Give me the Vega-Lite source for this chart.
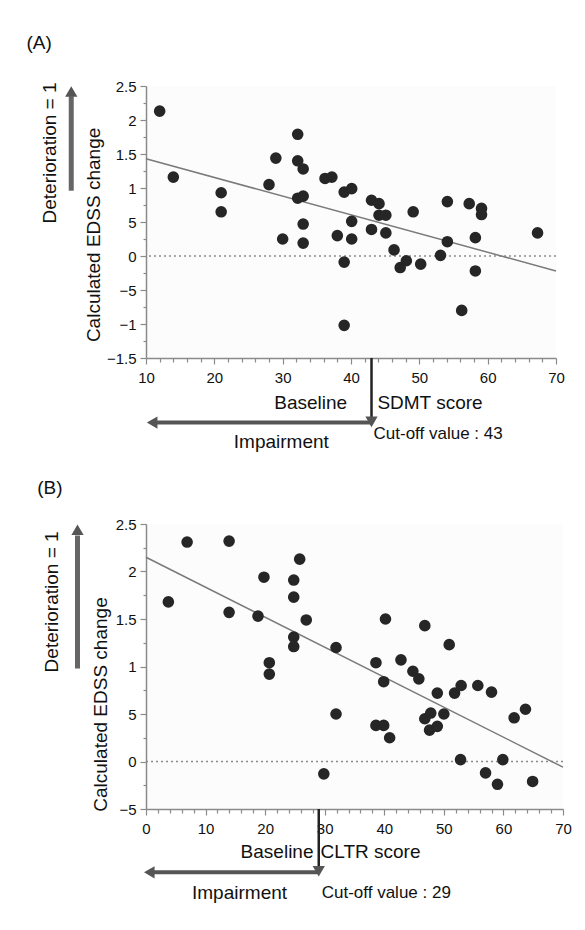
{
  "$schema": "https://vega.github.io/schema/vega-lite/v6.json",
  "padding": {"left": 26, "top": 34, "right": 0, "bottom": 0},
  "spacing": 25,
  "background": "white",
  "config": {
    "font": "Liberation Sans",
    "view": {"stroke": null, "fill": "#fcfcfc"},
    "axis": {"grid": false, "domainColor": "#8a8a8a", "domainWidth": 1.5, "tickColor": "#8a8a8a", "tickWidth": 1.2, "labelFontSize": 15, "labelColor": "#111", "labelFont": "Liberation Sans", "labelOverlap": false, "labelFlush": false, "labelBound": false, "title": null}
  },
  "vconcat": [
    {
      "width": 410,
      "height": 272,
      "resolve": {"axis": {"x": "independent", "y": "independent"}},
      "layer": [
        {
          "data": {"values": [{"y": 0}]},
          "mark": {"type": "rule", "color": "#8a8a8a", "strokeDash": [2, 3], "strokeWidth": 1.5},
          "encoding": {
            "y": {"field": "y", "type": "quantitative", "scale": {"domain": [-1.5, 2.5], "nice": false, "zero": false},
              "axis": {"orient": "left", "values": [2.5, 2, 1.5, 1, 0.5, 0, -0.5, -1, -1.5], "tickSize": 6, "labelPadding": 4,
                "labelExpr": "datum.value == 2.5 ? '2.5' : datum.value == 2 ? '2' : datum.value == 1.5 ? '1.5' : datum.value == 1 ? '1' : datum.value == 0.5 ? '5' : datum.value == 0 ? '0' : datum.value == -0.5 ? '−5' : datum.value == -1 ? '−1' : '−1.5'"}}
          }
        },
        {
          "data": {"values": [{"x": 10, "y": 1.43}, {"x": 70, "y": -0.22}]},
          "mark": {"type": "line", "color": "#7a7a7a", "strokeWidth": 1.5},
          "encoding": {
            "x": {"field": "x", "type": "quantitative", "scale": {"domain": [10, 70], "nice": false, "zero": false},
              "axis": {"orient": "bottom", "values": [10, 20, 30, 40, 50, 60, 70], "tickSize": 6, "labelPadding": 6}},
            "y": {"field": "y", "type": "quantitative", "scale": {"domain": [-1.5, 2.5], "nice": false, "zero": false}, "axis": null}
          }
        },
        {
          "data": {"values": [
            {"x": 12, "y": 2.13}, {"x": 14, "y": 1.16}, {"x": 21, "y": 0.93}, {"x": 21, "y": 0.65}, {"x": 28, "y": 1.05},
            {"x": 29, "y": 1.44}, {"x": 30, "y": 0.25}, {"x": 32.2, "y": 1.79}, {"x": 32.2, "y": 1.4}, {"x": 33, "y": 1.28},
            {"x": 32.2, "y": 0.85}, {"x": 33, "y": 0.88}, {"x": 33, "y": 0.47}, {"x": 33, "y": 0.19}, {"x": 36.2, "y": 1.14},
            {"x": 37.2, "y": 1.16}, {"x": 38, "y": 0.3}, {"x": 39, "y": 0.94}, {"x": 40.1, "y": 0.99}, {"x": 43, "y": 0.82},
            {"x": 44.1, "y": 0.77}, {"x": 44.1, "y": 0.6}, {"x": 45.1, "y": 0.6}, {"x": 40.1, "y": 0.51}, {"x": 40.1, "y": 0.25},
            {"x": 43, "y": 0.39}, {"x": 45.1, "y": 0.34}, {"x": 49.1, "y": 0.65}, {"x": 54.1, "y": 0.8}, {"x": 57.3, "y": 0.77},
            {"x": 59.1, "y": 0.7}, {"x": 59.1, "y": 0.61}, {"x": 67.3, "y": 0.34}, {"x": 54.1, "y": 0.21}, {"x": 58.2, "y": 0.27},
            {"x": 46.3, "y": 0.09}, {"x": 39, "y": -0.09}, {"x": 47.2, "y": -0.17}, {"x": 48.1, "y": -0.07}, {"x": 50.2, "y": -0.12},
            {"x": 53.1, "y": 0.01}, {"x": 58.2, "y": -0.22}, {"x": 56.2, "y": -0.8}, {"x": 39, "y": -1.02}
          ]},
          "mark": {"type": "circle", "size": 135, "color": "#262626", "opacity": 1},
          "encoding": {
            "x": {"field": "x", "type": "quantitative", "scale": {"domain": [10, 70], "nice": false, "zero": false},
              "axis": {"orient": "bottom", "values": [12,14,16,18,22,24,26,28,32,34,36,38,42,44,46,48,52,54,56,58,62,64,66,68], "tickSize": 4, "labels": false, "domain": false}},
            "y": {"field": "y", "type": "quantitative", "scale": {"domain": [-1.5, 2.5], "nice": false, "zero": false},
              "axis": {"orient": "left", "values": [2.25, 1.75, 1.25, 0.75, 0.25, -0.25, -0.75, -1.25], "tickSize": 3, "labels": false, "domain": false}}
          }
        },
        {
          "data": {"values": [{"x": -0.94, "x2": -0.94, "y": 0.96, "y2": 2.35}]},
          "mark": {"type": "rule", "color": "#666", "strokeWidth": 5},
          "encoding": {"x": {"field": "x", "type": "quantitative", "axis": null}, "x2": {"field": "x2"}, "y": {"field": "y", "type": "quantitative", "axis": null}, "y2": {"field": "y2"}}
        },
        {
          "data": {"values": [{"x": 43, "x2": 11.2, "y": -2.45, "y2": -2.45}]},
          "mark": {"type": "rule", "color": "#555", "strokeWidth": 4},
          "encoding": {"x": {"field": "x", "type": "quantitative", "axis": null}, "x2": {"field": "x2"}, "y": {"field": "y", "type": "quantitative", "axis": null}, "y2": {"field": "y2"}}
        },
        {
          "data": {"values": [{"x": 43, "x2": 43, "y": -1.5, "y2": -2.37}]},
          "mark": {"type": "rule", "color": "#222", "strokeWidth": 2.5},
          "encoding": {"x": {"field": "x", "type": "quantitative", "axis": null}, "x2": {"field": "x2"}, "y": {"field": "y", "type": "quantitative", "axis": null}, "y2": {"field": "y2"}}
        },
        {
          "data": {"values": [{"x": -0.94, "y": 2.42, "dir": "up"}, {"x": 43, "y": -2.44, "dir": "down"}, {"x": 10.9, "y": -2.45, "dir": "left"}]},
          "mark": {"type": "point", "filled": true, "size": 150, "color": "#555", "opacity": 1},
          "encoding": {
            "x": {"field": "x", "type": "quantitative", "axis": null}, "y": {"field": "y", "type": "quantitative", "axis": null},
            "shape": {"field": "dir", "type": "nominal", "scale": {"domain": ["up", "down", "left"], "range": ["triangle-up", "triangle-down", "triangle-left"]}, "legend": null}
          }
        },
        {
          "data": {"values": [{"x": -7.5, "y": 3.13, "t": "(A)"}]},
          "mark": {"type": "text", "align": "left", "baseline": "middle", "fontSize": 19, "color": "#111"},
          "encoding": {"x": {"field": "x", "type": "quantitative", "axis": null}, "y": {"field": "y", "type": "quantitative", "axis": null}, "text": {"field": "t"}}
        },
        {
          "data": {"values": [{"x": -4.0, "y": 1.515, "t": "Deterioration = 1"}, {"x": 2.45, "y": 0.31, "t": "Calculated EDSS change"}]},
          "mark": {"type": "text", "align": "center", "baseline": "middle", "angle": 270, "fontSize": 19, "color": "#111"},
          "encoding": {"x": {"field": "x", "type": "quantitative", "axis": null}, "y": {"field": "y", "type": "quantitative", "axis": null}, "text": {"field": "t"}}
        },
        {
          "data": {"values": [{"x": 34.1, "y": -2.16, "t": "Baseline"}, {"x": 29.8, "y": -2.74, "t": "Impairment"}]},
          "mark": {"type": "text", "align": "center", "baseline": "middle", "fontSize": 19, "color": "#111"},
          "encoding": {"x": {"field": "x", "type": "quantitative", "axis": null}, "y": {"field": "y", "type": "quantitative", "axis": null}, "text": {"field": "t"}}
        },
        {
          "data": {"values": [{"x": 43.86, "y": -2.16, "t": "SDMT score"}]},
          "mark": {"type": "text", "align": "left", "baseline": "middle", "fontSize": 19, "color": "#111"},
          "encoding": {"x": {"field": "x", "type": "quantitative", "axis": null}, "y": {"field": "y", "type": "quantitative", "axis": null}, "text": {"field": "t"}}
        },
        {
          "data": {"values": [{"x": 43.3, "y": -2.62, "t": "Cut-off value : 43"}]},
          "mark": {"type": "text", "align": "left", "baseline": "middle", "fontSize": 17, "color": "#111"},
          "encoding": {"x": {"field": "x", "type": "quantitative", "axis": null}, "y": {"field": "y", "type": "quantitative", "axis": null}, "text": {"field": "t"}}
        }
      ]
    },
    {
      "width": 417,
      "height": 285,
      "resolve": {"axis": {"x": "independent", "y": "independent"}},
      "layer": [
        {
          "data": {"values": [{"y": 0}]},
          "mark": {"type": "rule", "color": "#8a8a8a", "strokeDash": [2, 3], "strokeWidth": 1.5},
          "encoding": {
            "y": {"field": "y", "type": "quantitative", "scale": {"domain": [-0.5, 2.5], "nice": false, "zero": false},
              "axis": {"orient": "left", "values": [2.5, 2, 1.5, 1, 0.5, 0, -0.5], "tickSize": 6, "labelPadding": 4,
                "labelExpr": "datum.value == 2.5 ? '2.5' : datum.value == 2 ? '2' : datum.value == 1.5 ? '1.5' : datum.value == 1 ? '1' : datum.value == 0.5 ? '5' : datum.value == 0 ? '0' : '−5'"}}
          }
        },
        {
          "data": {"values": [{"x": 0, "y": 2.15}, {"x": 70, "y": -0.06}]},
          "mark": {"type": "line", "color": "#7a7a7a", "strokeWidth": 1.5},
          "encoding": {
            "x": {"field": "x", "type": "quantitative", "scale": {"domain": [0, 70], "nice": false, "zero": false},
              "axis": {"orient": "bottom", "values": [0, 10, 20, 30, 40, 50, 60, 70], "tickSize": 6, "labelPadding": 6}},
            "y": {"field": "y", "type": "quantitative", "scale": {"domain": [-0.5, 2.5], "nice": false, "zero": false}, "axis": null}
          }
        },
        {
          "data": {"values": [
            {"x": 3.75, "y": 1.68}, {"x": 6.9, "y": 2.31}, {"x": 13.95, "y": 2.32}, {"x": 13.95, "y": 1.57}, {"x": 18.8, "y": 1.53},
            {"x": 19.8, "y": 1.94}, {"x": 24.8, "y": 1.91}, {"x": 24.8, "y": 1.73}, {"x": 25.8, "y": 2.13}, {"x": 26.9, "y": 1.49},
            {"x": 24.8, "y": 1.31}, {"x": 24.8, "y": 1.21}, {"x": 31.9, "y": 1.2}, {"x": 20.7, "y": 1.04}, {"x": 20.7, "y": 0.92},
            {"x": 31.9, "y": 0.5}, {"x": 29.85, "y": -0.13}, {"x": 38.6, "y": 1.04}, {"x": 39.9, "y": 0.84}, {"x": 38.6, "y": 0.38},
            {"x": 39.9, "y": 0.38}, {"x": 40.9, "y": 0.25}, {"x": 42.8, "y": 1.07}, {"x": 44.8, "y": 0.95}, {"x": 45.8, "y": 0.87},
            {"x": 46.8, "y": 0.45}, {"x": 47.8, "y": 0.51}, {"x": 47.6, "y": 0.33}, {"x": 48.9, "y": 0.72}, {"x": 48.9, "y": 0.37},
            {"x": 50, "y": 0.5}, {"x": 50.9, "y": 1.23}, {"x": 51.8, "y": 0.72}, {"x": 52.9, "y": 0.8}, {"x": 52.8, "y": 0.02},
            {"x": 55.7, "y": 0.8}, {"x": 58, "y": 0.73}, {"x": 57, "y": -0.12}, {"x": 59, "y": -0.24}, {"x": 59.9, "y": 0.02},
            {"x": 61.8, "y": 0.46}, {"x": 63.7, "y": 0.55}, {"x": 64.9, "y": -0.21}, {"x": 40.2, "y": 1.5}, {"x": 46.8, "y": 1.43}
          ]},
          "mark": {"type": "circle", "size": 135, "color": "#262626", "opacity": 1},
          "encoding": {
            "x": {"field": "x", "type": "quantitative", "scale": {"domain": [0, 70], "nice": false, "zero": false},
              "axis": {"orient": "bottom", "values": [2,4,6,8,12,14,16,18,22,24,26,28,32,34,36,38,42,44,46,48,52,54,56,58,62,64,66,68], "tickSize": 4, "labels": false, "domain": false}},
            "y": {"field": "y", "type": "quantitative", "scale": {"domain": [-0.5, 2.5], "nice": false, "zero": false},
              "axis": {"orient": "left", "values": [2.25, 1.75, 1.25, 0.75, 0.25, -0.25], "tickSize": 3, "labels": false, "domain": false}}
          }
        },
        {
          "data": {"values": [{"x": -11.5, "x2": -11.5, "y": 0.98, "y2": 2.38}]},
          "mark": {"type": "rule", "color": "#666", "strokeWidth": 5},
          "encoding": {"x": {"field": "x", "type": "quantitative", "axis": null}, "x2": {"field": "x2"}, "y": {"field": "y", "type": "quantitative", "axis": null}, "y2": {"field": "y2"}}
        },
        {
          "data": {"values": [{"x": 29, "x2": 1.0, "y": -1.166, "y2": -1.166}]},
          "mark": {"type": "rule", "color": "#555", "strokeWidth": 4},
          "encoding": {"x": {"field": "x", "type": "quantitative", "axis": null}, "x2": {"field": "x2"}, "y": {"field": "y", "type": "quantitative", "axis": null}, "y2": {"field": "y2"}}
        },
        {
          "data": {"values": [{"x": 29, "x2": 29, "y": -0.5, "y2": -1.1}]},
          "mark": {"type": "rule", "color": "#222", "strokeWidth": 2.5},
          "encoding": {"x": {"field": "x", "type": "quantitative", "axis": null}, "x2": {"field": "x2"}, "y": {"field": "y", "type": "quantitative", "axis": null}, "y2": {"field": "y2"}}
        },
        {
          "data": {"values": [{"x": -11.5, "y": 2.44, "dir": "up"}, {"x": 29, "y": -1.156, "dir": "down"}, {"x": 0.55, "y": -1.166, "dir": "left"}]},
          "mark": {"type": "point", "filled": true, "size": 150, "color": "#555", "opacity": 1},
          "encoding": {
            "x": {"field": "x", "type": "quantitative", "axis": null}, "y": {"field": "y", "type": "quantitative", "axis": null},
            "shape": {"field": "dir", "type": "nominal", "scale": {"domain": ["up", "down", "left"], "range": ["triangle-up", "triangle-down", "triangle-left"]}, "legend": null}
          }
        },
        {
          "data": {"values": [{"x": -18.27, "y": 2.88, "t": "(B)"}]},
          "mark": {"type": "text", "align": "left", "baseline": "middle", "fontSize": 19, "color": "#111"},
          "encoding": {"x": {"field": "x", "type": "quantitative", "axis": null}, "y": {"field": "y", "type": "quantitative", "axis": null}, "text": {"field": "t"}}
        },
        {
          "data": {"values": [{"x": -15.7, "y": 1.68, "t": "Deterioration = 1"}, {"x": -7.56, "y": 0.6, "t": "Calculated EDSS change"}]},
          "mark": {"type": "text", "align": "center", "baseline": "middle", "angle": 270, "fontSize": 19, "color": "#111"},
          "encoding": {"x": {"field": "x", "type": "quantitative", "axis": null}, "y": {"field": "y", "type": "quantitative", "axis": null}, "text": {"field": "t"}}
        },
        {
          "data": {"values": [{"x": 22.0, "y": -0.954, "t": "Baseline"}, {"x": 15.7, "y": -1.38, "t": "Impairment"}]},
          "mark": {"type": "text", "align": "center", "baseline": "middle", "fontSize": 19, "color": "#111"},
          "encoding": {"x": {"field": "x", "type": "quantitative", "axis": null}, "y": {"field": "y", "type": "quantitative", "axis": null}, "text": {"field": "t"}}
        },
        {
          "data": {"values": [{"x": 29.3, "y": -0.954, "t": "CLTR score"}]},
          "mark": {"type": "text", "align": "left", "baseline": "middle", "fontSize": 19, "color": "#111"},
          "encoding": {"x": {"field": "x", "type": "quantitative", "axis": null}, "y": {"field": "y", "type": "quantitative", "axis": null}, "text": {"field": "t"}}
        },
        {
          "data": {"values": [{"x": 29.5, "y": -1.38, "t": "Cut-off value : 29"}]},
          "mark": {"type": "text", "align": "left", "baseline": "middle", "fontSize": 17, "color": "#111"},
          "encoding": {"x": {"field": "x", "type": "quantitative", "axis": null}, "y": {"field": "y", "type": "quantitative", "axis": null}, "text": {"field": "t"}}
        }
      ]
    }
  ]
}
